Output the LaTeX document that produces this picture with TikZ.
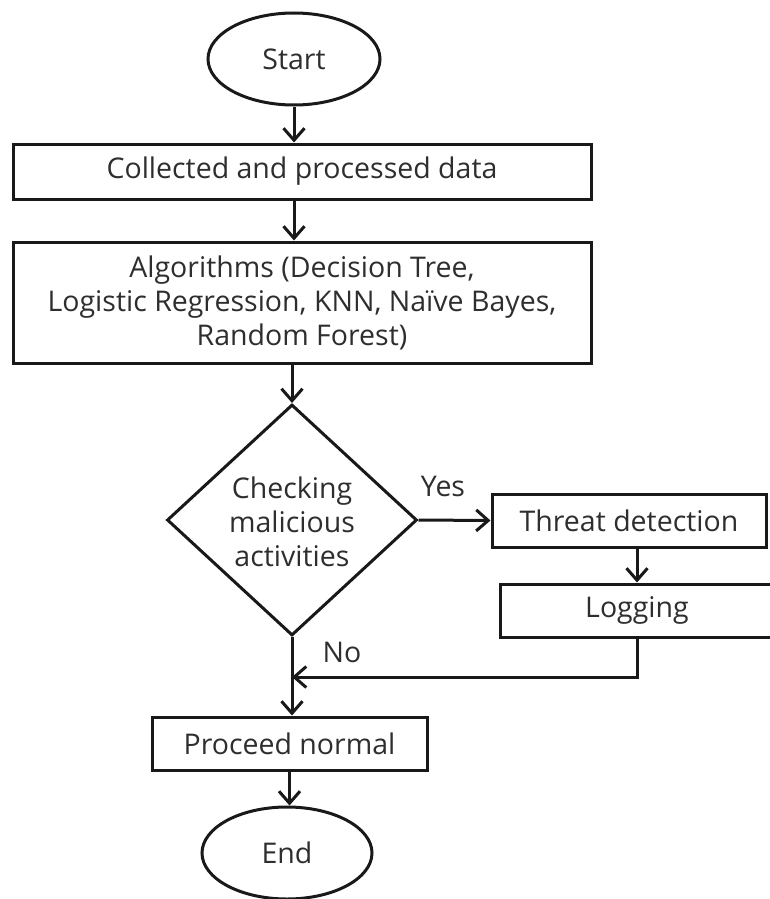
\documentclass[tikz,border=0pt]{standalone}
\usepackage{fontspec}
\setmainfont{Open Sans}
\usetikzlibrary{shapes.geometric,arrows.meta}
\begin{document}
\begin{tikzpicture}[x=1pt,y=-1pt,
  every node/.style={font=\fontsize{28.5}{34}\selectfont, text=black!82},
  line/.style={draw=black!90, line width=3pt},
  procbox/.style={line, rectangle, inner sep=0pt, align=center},
  termin/.style={line, ellipse, inner sep=0pt, minimum width=172pt, minimum height=92pt},
  decision/.style={line, diamond, inner sep=0pt, minimum width=250pt, minimum height=231pt},
  txt/.style={align=center, inner sep=0pt},
  arr/.style={line, -{Straight Barb[length=12pt,width=21pt]}},
  lbl/.style={inner sep=0pt}]
\useasboundingbox (0,0) rectangle (769,899);
\node[termin] (start) at (294,59) {Start};
\node[procbox, minimum width=578pt, minimum height=55pt] (collect) at (302,171.5) {Collected and processed data};
\node[procbox, minimum width=578pt, minimum height=121pt] (algo) at (302,302.5) {Algorithms (Decision Tree,\\Logistic Regression, KNN, Naïve Bayes,\\Random Forest)};
\node[decision] (check) at (292,520) {};
\node[txt] (checktxt) at (292,522) {Checking\\malicious\\activities};
\node[procbox, minimum width=274pt, minimum height=53pt] (threat) at (629,520.5) {Threat detection};
\node[procbox, minimum width=274pt, minimum height=53pt] (logging) at (637,610.5) {Logging};
\node[procbox, minimum width=275pt, minimum height=53pt] (proceed) at (289.5,743.5) {Proceed normal};
\node[termin, minimum width=170pt] (end) at (287,853) {End};
\coordinate (merge) at (292,677);
\node[lbl] (yes) at (443,486) {Yes};
\node[lbl] (no) at (342,652) {No};
\draw[arr] (start.south) -- (start.south |- collect.north);
\draw[arr] (collect.south -| start.south) -- (algo.north -| start.south);
\draw[arr] (algo.south -| check.north) -- (check.north);
\draw[arr] (check.east) -- (threat.west);
\draw[arr] (threat.south -| logging.north) -- (logging.north);
\draw[arr] (logging.south) |- (merge);
\draw[arr] (check.south) -- (check.south |- proceed.north);
\draw[arr] (proceed.south) -- (proceed.south |- end.north);
\end{tikzpicture}
\end{document}
